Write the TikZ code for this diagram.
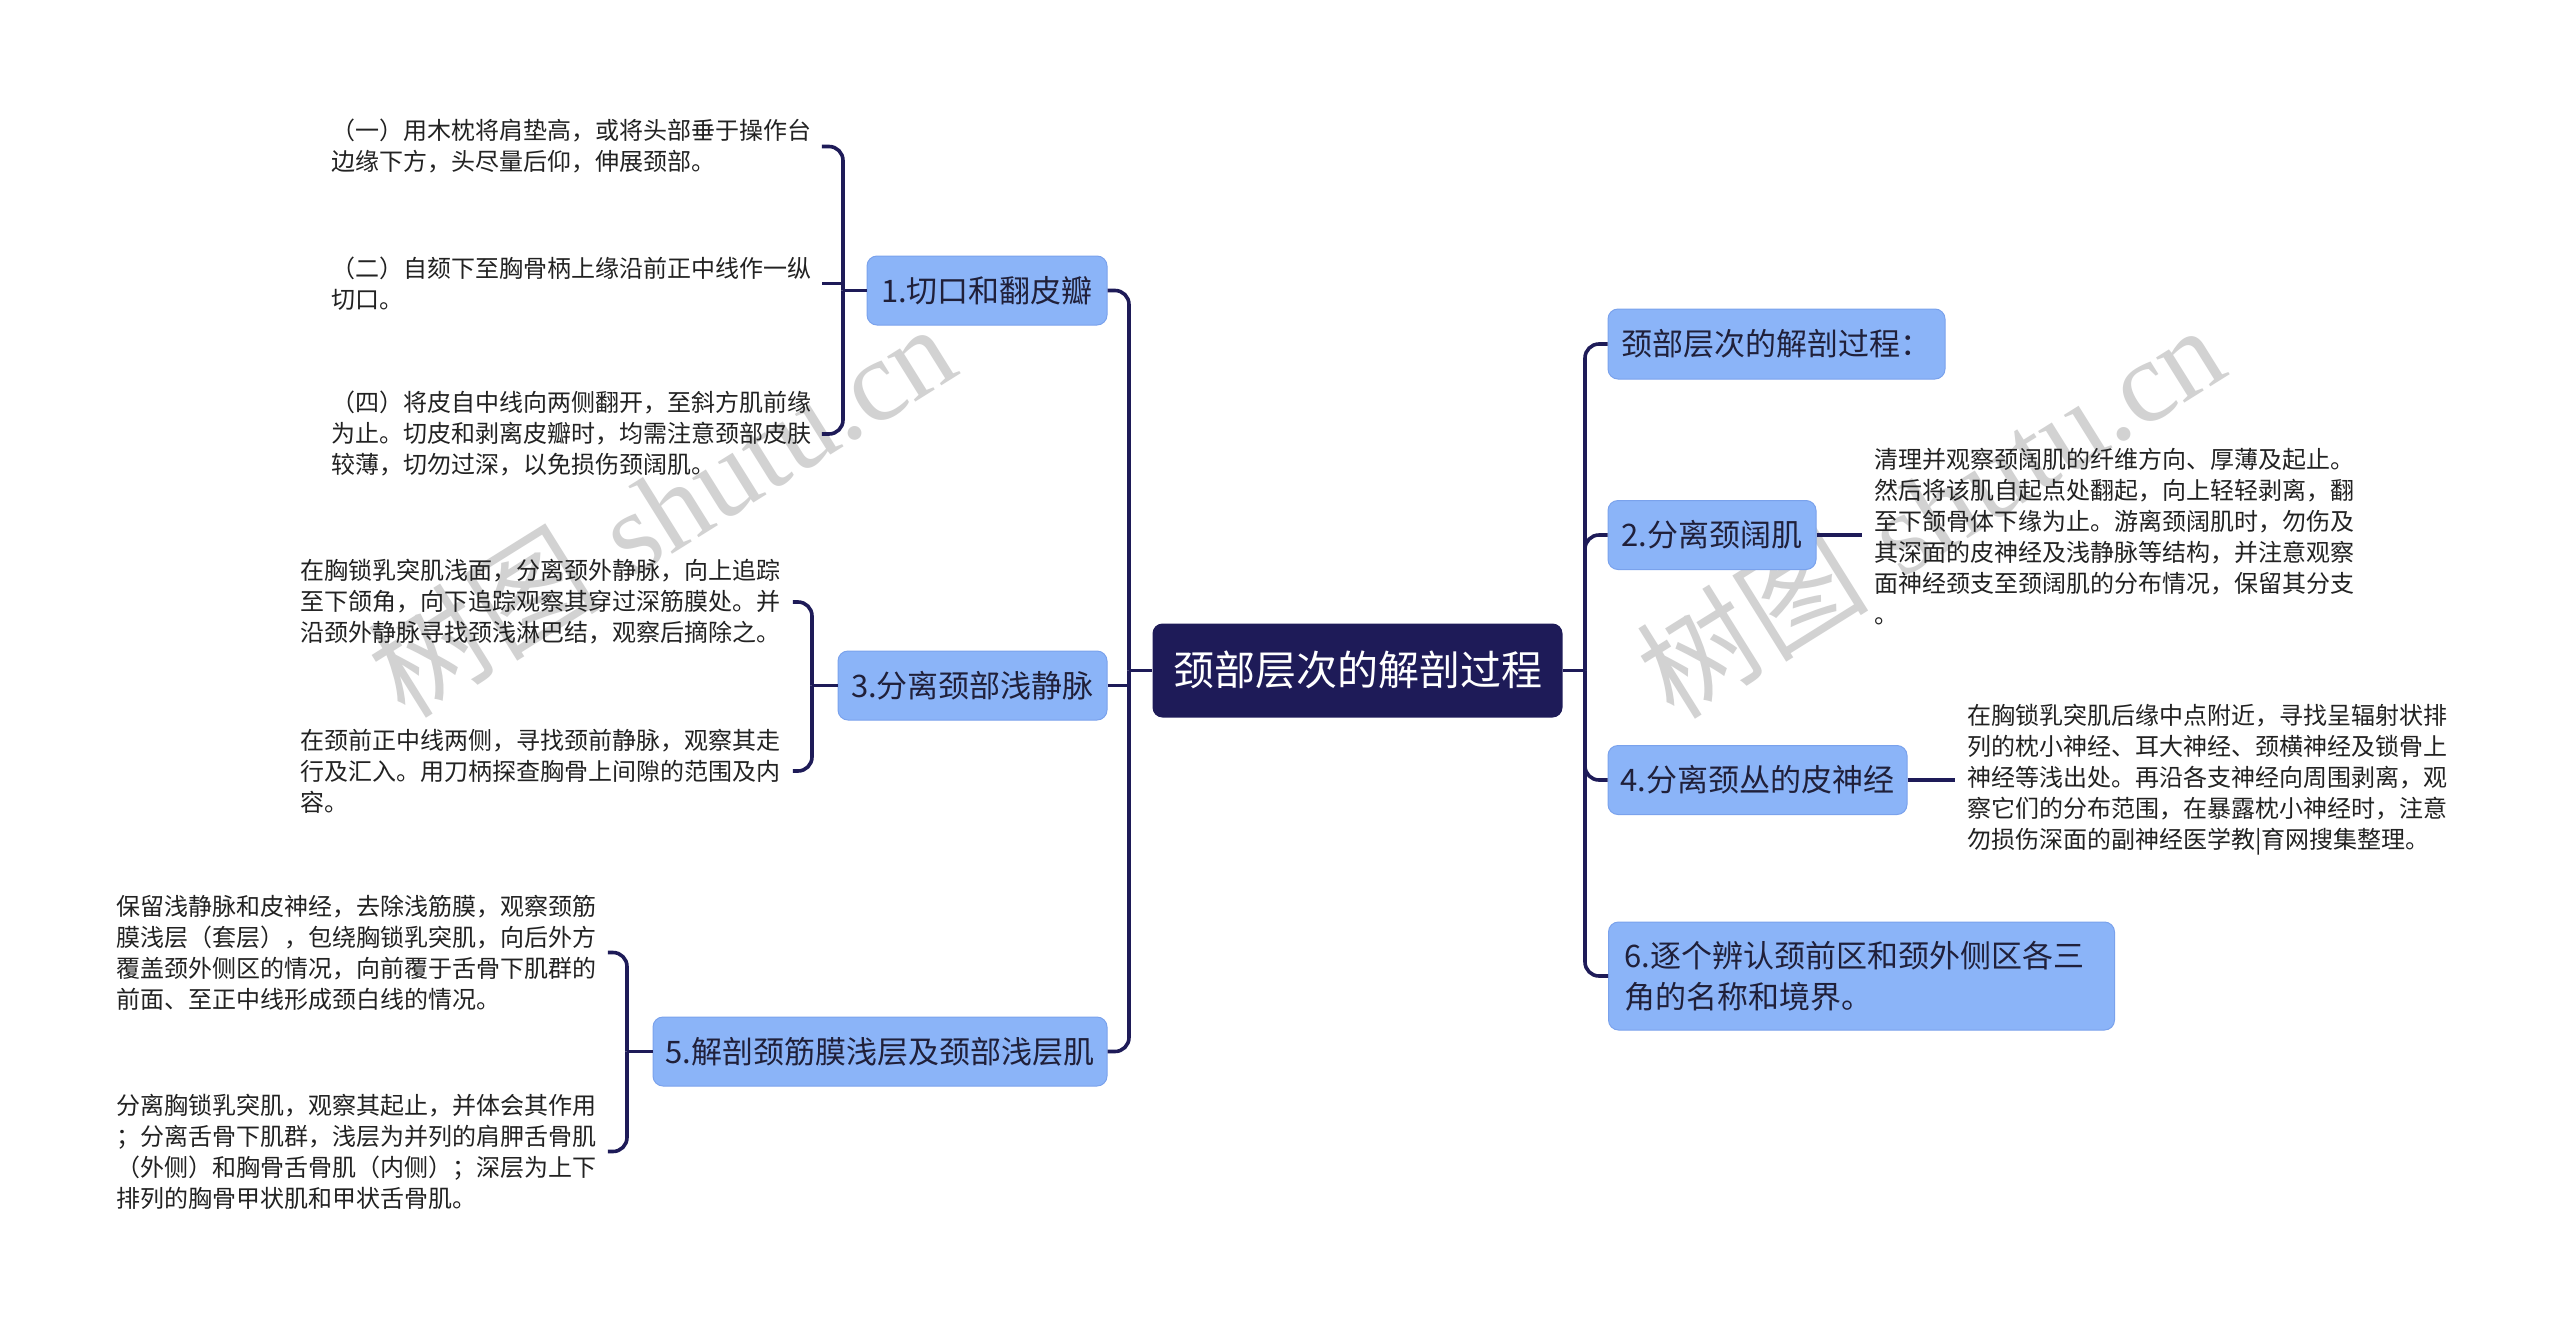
\documentclass[tikz,border=0pt]{standalone}
\usepackage{fontspec}
\newfontfamily\cjk{Noto Sans CJK SC}
\newfontfamily\wmserif{Liberation Serif}
\usetikzlibrary{calc}
\definecolor{navy}{RGB}{30,27,88}
\definecolor{nodeblue}{RGB}{139,180,248}
\definecolor{nodeedge}{RGB}{122,162,236}
\definecolor{nodetext}{RGB}{32,32,58}
\definecolor{leaftext}{RGB}{34,34,34}
\definecolor{wmgray}{RGB}{210,210,210}
\begin{document}
\begin{tikzpicture}[x=0.5pt,y=-0.5pt,
  conn/.style={draw=navy, line width=1.8pt},
  rc/.style={rounded corners=7pt},
  rootbox/.style={fill=navy, rounded corners=5pt, text=white, font=\cjk\fontsize{20.5pt}{24pt}\selectfont, minimum height=47pt, inner sep=0pt},
  topic/.style={fill=nodeblue, draw=nodeedge, line width=0.5pt, rounded corners=5pt, text=nodetext, font=\cjk\fontsize{15.5pt}{20.5pt}\selectfont, minimum height=34.5pt, inner sep=0pt},
  leaf/.style={anchor=west, inner sep=0pt, align=left, text=leaftext, font=\cjk\fontsize{12pt}{15.5pt}\selectfont},
  wm/.style={text=wmgray, font=\fontsize{58pt}{60pt}\selectfont}
]
\useasboundingbox (0,0) rectangle (2560,1328);
\fill[white] (0,0) rectangle (2560,1328);

% watermarks
\node[wm, rotate=32] (wm1) at (661,509) {{\cjk 树图} {\wmserif shutu.cn}};
\node[wm, rotate=32] (wm2) at (1930,510) {{\cjk 树图} {\wmserif shutu.cn}};

% bracket coordinates
\coordinate (bL) at (1129,0);
\coordinate (bR) at (1585,0);
\coordinate (b1) at (843,0);
\coordinate (b3) at (812,0);
\coordinate (b5) at (627,0);

% root
\node[rootbox, minimum width=205pt] (root) at (1357.5,670.5) {颈部层次的解剖过程};

% left topics
\node[topic, minimum width=120pt] (n1) at (987,290.5) {1.切口和翻皮瓣};
\node[topic, minimum width=134.5pt] (n3) at (972.5,685.5) {3.分离颈部浅静脉};
\node[topic, minimum width=227pt] (n5) at (880,1051.5) {5.解剖颈筋膜浅层及颈部浅层肌};

% right topics
\node[topic, minimum width=168.5pt, minimum height=35pt] (r0) at (1776.5,344) {颈部层次的解剖过程：};
\node[topic, minimum width=104pt] (r2) at (1712,535) {2.分离颈阔肌};
\node[topic, minimum width=149.5pt] (r4) at (1757.5,780) {4.分离颈丛的皮神经};
\node[topic, anchor=west, minimum height=54pt, inner xsep=8pt, text width=237pt, align=left] (r6) at (1608,976) {6.逐个辨认颈前区和颈外侧区各三\\角的名称和境界。};

% leaves
\node[leaf] (l1a) at (331,146.5) {（一）用木枕将肩垫高，或将头部垂于操作台\\边缘下方，头尽量后仰，伸展颈部。};
\node[leaf] (l1b) at (331,283.5) {（二）自颏下至胸骨柄上缘沿前正中线作一纵\\切口。};
\node[leaf] (l1c) at (331,434) {（四）将皮自中线向两侧翻开，至斜方肌前缘\\为止。切皮和剥离皮瓣时，均需注意颈部皮肤\\较薄，切勿过深，以免损伤颈阔肌。};
\node[leaf] (l3a) at (300,602) {在胸锁乳突肌浅面，分离颈外静脉，向上追踪\\至下颌角，向下追踪观察其穿过深筋膜处。并\\沿颈外静脉寻找颈浅淋巴结，观察后摘除之。};
\node[leaf] (l3b) at (300,771) {在颈前正中线两侧，寻找颈前静脉，观察其走\\行及汇入。用刀柄探查胸骨上间隙的范围及内\\容。};
\node[leaf] (l5a) at (116,952.5) {保留浅静脉和皮神经，去除浅筋膜，观察颈筋\\膜浅层（套层），包绕胸锁乳突肌，向后外方\\覆盖颈外侧区的情况，向前覆于舌骨下肌群的\\前面、至正中线形成颈白线的情况。};
\node[leaf] (l5b) at (116,1151.5) {分离胸锁乳突肌，观察其起止，并体会其作用\\；分离舌骨下肌群，浅层为并列的肩胛舌骨肌\\（外侧）和胸骨舌骨肌（内侧）；深层为上下\\排列的胸骨甲状肌和甲状舌骨肌。};
\node[leaf] (lr2) at (1874,536.5) {清理并观察颈阔肌的纤维方向、厚薄及起止。\\然后将该肌自起点处翻起，向上轻轻剥离，翻\\至下颌骨体下缘为止。游离颈阔肌时，勿伤及\\其深面的皮神经及浅静脉等结构，并注意观察\\面神经颈支至颈阔肌的分布情况，保留其分支\\。};
\node[leaf] (lr4) at (1967,780) {在胸锁乳突肌后缘中点附近，寻找呈辐射状排\\列的枕小神经、耳大神经、颈横神经及锁骨上\\神经等浅出处。再沿各支神经向周围剥离，观\\察它们的分布范围，在暴露枕小神经时，注意\\勿损伤深面的副神经医学教|育网搜集整理。};

% left main branches
\draw[conn] (root.west) -- (root.west -| bL);
\draw[conn, rc] (root.west -| bL) -- (n1.east -| bL) -- (n1.east);
\draw[conn] (n3.east) -- (n3.east -| bL);
\draw[conn, rc] (root.west -| bL) -- (n5.east -| bL) -- (n5.east);

% right main branches
\draw[conn] (root.east) -- (root.east -| bR);
\draw[conn, rc] (root.east -| bR) -- (r0.west -| bR) -- (r0.west);
\draw[conn, rc] (root.east -| bR) -- (r2.west -| bR) -- (r2.west);
\draw[conn, rc] (root.east -| bR) -- (r4.west -| bR) -- (r4.west);
\draw[conn, rc] (root.east -| bR) -- (r6.west -| bR) -- (r6.west);
\draw[conn] (r2.east) -- ([xshift=-6pt]lr2.west |- r2.east);
\draw[conn] (r4.east) -- ([xshift=-6pt]lr4.west |- r4.east);

% node 1 leaves
\draw[conn] (n1.west) -- (n1.west -| b1);
\draw[conn, rc] (n1.west -| b1) -- (l1a.east -| b1) -- ([xshift=5pt]l1a.east);
\draw[conn] (l1b.east -| b1) -- ([xshift=5pt]l1b.east);
\draw[conn, rc] (n1.west -| b1) -- (l1c.east -| b1) -- ([xshift=5pt]l1c.east);

% node 3 leaves
\draw[conn] (n3.west) -- (n3.west -| b3);
\draw[conn, rc] (n3.west -| b3) -- (l3a.east -| b3) -- ([xshift=6pt]l3a.east);
\draw[conn, rc] (n3.west -| b3) -- (l3b.east -| b3) -- ([xshift=6pt]l3b.east);

% node 5 leaves
\draw[conn] (n5.west) -- (n5.west -| b5);
\draw[conn, rc] (n5.west -| b5) -- (l5a.east -| b5) -- ([xshift=5.5pt]l5a.east);
\draw[conn, rc] (n5.west -| b5) -- (l5b.east -| b5) -- ([xshift=5.5pt]l5b.east);
\end{tikzpicture}
\end{document}
